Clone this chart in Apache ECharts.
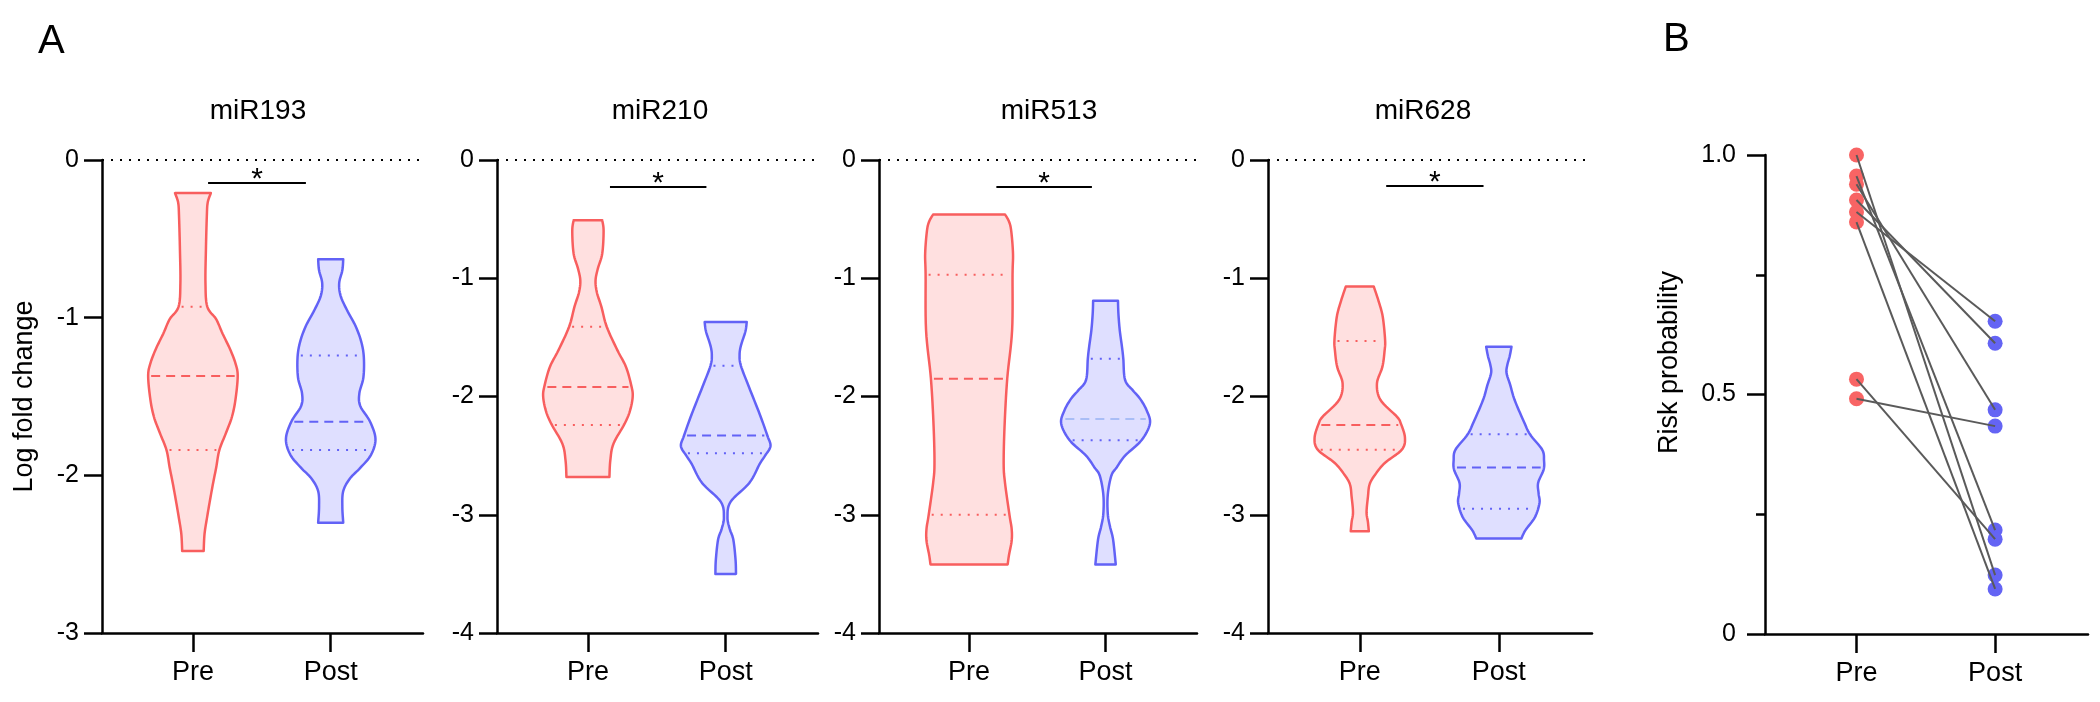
<!DOCTYPE html>
<html>
<head>
<meta charset="utf-8">
<script src="https://cdn.jsdelivr.net/npm/echarts@6/dist/echarts.min.js"></script>
<style>html,body{margin:0;padding:0;background:#fff}#chart{width:2100px;height:702px}</style>
</head>
<body>
<div id="chart"></div>
<script>
// ---------------- DATA ----------------
const groups = ['Pre', 'Post'];
const panelTitles = ['miR193', 'miR210', 'miR513', 'miR628'];

// Violin outlines: [log fold change, relative width (1 = widest)]
const miR193_pre = [[-0.21,0.40],[-0.27,0.33],[-0.36,0.31],[-0.57,0.29],[-0.78,0.28],[-0.93,0.32],[-1.01,0.52],[-1.10,0.66],[-1.20,0.83],[-1.29,0.95],[-1.37,1.0],[-1.52,0.95],[-1.63,0.87],[-1.73,0.74],[-1.84,0.59],[-1.95,0.52],[-2.05,0.45],[-2.16,0.38],[-2.26,0.32],[-2.37,0.26],[-2.48,0.24]];
const miR193_post = [[-0.63,0.28],[-0.70,0.26],[-0.78,0.19],[-0.86,0.22],[-0.95,0.36],[-1.05,0.55],[-1.15,0.68],[-1.25,0.74],[-1.38,0.73],[-1.48,0.64],[-1.56,0.66],[-1.66,0.88],[-1.77,1.0],[-1.87,0.90],[-1.95,0.67],[-2.02,0.43],[-2.10,0.28],[-2.20,0.26],[-2.30,0.28]];
const miR210_pre = [[-0.51,0.32],[-0.60,0.35],[-0.79,0.32],[-0.92,0.22],[-1.02,0.17],[-1.12,0.20],[-1.24,0.30],[-1.41,0.42],[-1.61,0.66],[-1.75,0.85],[-1.91,0.97],[-2.00,1.0],[-2.12,0.94],[-2.23,0.82],[-2.40,0.57],[-2.54,0.50],[-2.68,0.48]];
const miR210_post = [[-1.37,0.47],[-1.45,0.44],[-1.57,0.34],[-1.65,0.31],[-1.74,0.34],[-1.92,0.52],[-2.15,0.76],[-2.33,0.93],[-2.42,1.0],[-2.50,0.88],[-2.57,0.76],[-2.73,0.53],[-2.89,0.11],[-3.02,0.04],[-3.12,0.09],[-3.21,0.17],[-3.38,0.22],[-3.50,0.23]];
const miR513_pre = [[-0.46,0.81],[-0.52,0.90],[-0.60,0.95],[-0.79,0.99],[-0.97,0.98],[-1.44,0.97],[-1.85,0.86],[-2.25,0.80],[-2.57,0.78],[-2.73,0.81],[-3.00,0.91],[-3.12,0.96],[-3.22,0.96],[-3.34,0.90],[-3.42,0.87]];
const miR513_post = [[-1.19,0.28],[-1.30,0.29],[-1.44,0.32],[-1.58,0.37],[-1.68,0.40],[-1.86,0.44],[-1.95,0.62],[-2.02,0.78],[-2.12,0.93],[-2.23,1.0],[-2.37,0.81],[-2.50,0.44],[-2.60,0.25],[-2.67,0.13],[-2.83,0.05],[-2.99,0.05],[-3.10,0.10],[-3.21,0.17],[-3.42,0.23]];
const miR628_pre = [[-1.07,0.31],[-1.21,0.43],[-1.33,0.51],[-1.52,0.56],[-1.61,0.55],[-1.75,0.50],[-1.89,0.38],[-2.03,0.46],[-2.17,0.82],[-2.23,0.91],[-2.35,1.0],[-2.45,0.93],[-2.56,0.56],[-2.65,0.36],[-2.74,0.22],[-2.85,0.18],[-2.98,0.15],[-3.06,0.18],[-3.14,0.20]];
const miR628_post = [[-1.58,0.28],[-1.66,0.24],[-1.73,0.19],[-1.80,0.17],[-1.90,0.25],[-2.03,0.35],[-2.20,0.54],[-2.32,0.69],[-2.45,0.96],[-2.54,1.0],[-2.62,0.99],[-2.73,0.87],[-2.82,0.88],[-2.90,0.90],[-3.02,0.80],[-3.13,0.59],[-3.20,0.50]];

// Quartiles: [upper quartile, median, lower quartile]
const miR193_pre_q = [-0.93, -1.37, -1.84];
const miR193_post_q = [-1.24, -1.66, -1.84];
const miR210_pre_q = [-1.41, -1.92, -2.24];
const miR210_post_q = [-1.74, -2.33, -2.48];
const miR513_pre_q = [-0.97, -1.85, -3.00];
const miR513_post_q = [-1.68, -2.19, -2.37];
const miR628_pre_q = [-1.53, -2.24, -2.45];
const miR628_post_q = [-2.32, -2.60, -2.95];

// Panel B: paired risk probabilities
const riskPre  = [1.000, 0.956, 0.939, 0.906, 0.881, 0.860, 0.532, 0.491];
const riskPost = [0.123, 0.217, 0.468, 0.607, 0.653, 0.094, 0.198, 0.434];

// y-axis ranges
const yMinA = [-3, -4, -4, -4];

// ---------------- LAYOUT / STYLE ----------------
const FONT = 'Liberation Sans, Arial, sans-serif';
const RED = '#F85E5E', RED_FILL = '#FFE0E0';
const BLUE = '#6262F6', BLUE_FILL = '#DFDFFF';
const MEDIAN_COLORS = [[RED, BLUE], [RED, BLUE], [RED, '#A9BDF6'], [RED, BLUE]];
const VIOLIN_WIDTH = 0.65; // in x-axis units (category spacing = 1)
const X_MIN = -0.66, X_MAX = 1.67;
const gridsA = [
  {left: 102, width: 321},
  {left: 497, width: 321},
  {left: 879, width: 318},
  {left: 1268, width: 324}
];
const titleX = [253, 655, 1044, 1418];
// significance bars (annotation): [x from, x to, y]
const sigA = [[0.11, 0.82, -0.146], [0.16, 0.86, -0.226], [0.20, 0.90, -0.226], [0.19, 0.89, -0.22]];
const sigB = [-0.03, 1.01, 1.109];

const profiles = [
  [miR193_pre, miR193_post], [miR210_pre, miR210_post],
  [miR513_pre, miR513_post], [miR628_pre, miR628_post]
];
const quarts = [
  [miR193_pre_q, miR193_post_q], [miR210_pre_q, miR210_post_q],
  [miR513_pre_q, miR513_post_q], [miR628_pre_q, miR628_post_q]
];

function catmull(pts, seg) {
  const out = [];
  const n = pts.length;
  for (let i = 0; i < n - 1; i++) {
    const p0 = pts[Math.max(i - 1, 0)], p1 = pts[i], p2 = pts[i + 1], p3 = pts[Math.min(i + 2, n - 1)];
    for (let s = 0; s < seg; s++) {
      const t = s / seg, t2 = t * t, t3 = t2 * t;
      const f = k => 0.5 * ((2 * p1[k]) + (-p0[k] + p2[k]) * t + (2 * p0[k] - 5 * p1[k] + 4 * p2[k] - p3[k]) * t2 + (-p0[k] + 3 * p1[k] - 3 * p2[k] + p3[k]) * t3);
      out.push([f(0), f(1)]);
    }
  }
  out.push(pts[n - 1]);
  return out;
}
function widthAt(prof, v) {
  for (let i = 0; i < prof.length - 1; i++) {
    const a = prof[i], b = prof[i + 1];
    if ((v <= a[0] && v >= b[0])) {
      const t = (a[0] - v) / (a[0] - b[0]);
      return a[1] + (b[1] - a[1]) * t;
    }
  }
  return prof[prof.length - 1][1];
}

function violinRender(panel) {
  return function (params, api) {
    const gi = params.dataIndex;
    const prof = profiles[panel][gi];
    const q = quarts[panel][gi];
    const xc = api.value(0);
    const unit = api.size([1, 0])[0];
    const halfMax = VIOLIN_WIDTH * unit / 2;
    const stroke = gi === 0 ? RED : BLUE;
    const fill = gi === 0 ? RED_FILL : BLUE_FILL;
    const right = prof.map(([v, w]) => { const p = api.coord([xc, v]); return [p[0] + w * halfMax, p[1]]; });
    const left = prof.map(([v, w]) => { const p = api.coord([xc, v]); return [p[0] - w * halfMax, p[1]]; });
    const pts = catmull(right, 8).concat(catmull(left, 8).reverse());
    const children = [{
      type: 'polygon', shape: {points: pts},
      style: {fill: fill, stroke: stroke, lineWidth: 2.5, lineJoin: 'round'}
    }];
    q.forEach((qv, k) => {
      const p = api.coord([xc, qv]);
      const hw = widthAt(prof, qv) * halfMax - 3;
      const isMed = k === 1;
      children.push({
        type: 'line',
        shape: {x1: p[0] - hw, y1: p[1], x2: p[0] + hw, y2: p[1]},
        style: {stroke: isMed ? MEDIAN_COLORS[panel][gi] : stroke, lineWidth: 2, lineDash: isMed ? [9, 6] : [2, 7]}
      });
    });
    return {type: 'group', children: children};
  };
}

const grids = [], xAxes = [], yAxes = [], series = [], titles = [];
const axisLineStyle = {color: '#000', width: 2.5};

function makeXAxis(gi) {
  return {
    type: 'value', gridIndex: gi, min: X_MIN, max: X_MAX,
    splitLine: {show: false},
    axisLine: {onZero: false, lineStyle: axisLineStyle},
    axisTick: {show: true, length: 19, lineStyle: axisLineStyle, customValues: [0, 1]},
    axisLabel: {customValues: [0, 1], formatter: v => groups[Math.round(v)], fontSize: 27, color: '#000', margin: 26, fontFamily: FONT}
  };
}

for (let i = 0; i < 4; i++) {
  grids.push({left: gridsA[i].left, width: gridsA[i].width, top: 160, height: 473});
  xAxes.push(makeXAxis(i));
  yAxes.push({
    type: 'value', gridIndex: i, min: yMinA[i], max: 0, interval: 1,
    splitLine: {show: false},
    axisLine: {show: true, onZero: false, lineStyle: axisLineStyle},
    axisTick: {show: true, length: 18, lineStyle: axisLineStyle},
    axisLabel: {fontSize: 25, color: '#000', margin: 23, fontFamily: FONT},
    name: i === 0 ? 'Log fold change' : '',
    nameLocation: 'middle', nameGap: 64,
    nameTextStyle: {fontSize: 27, color: '#000', fontFamily: FONT}
  });
  const s = sigA[i];
  series.push({
    type: 'custom', xAxisIndex: i, yAxisIndex: i,
    renderItem: violinRender(i),
    data: groups.map((g, k) => [k, quarts[i][k][1]]),
    clip: false,
    markLine: {
      silent: true, symbol: 'none', animation: false,
      data: [
        {yAxis: 0, lineStyle: {type: [2, 7], width: 2.2, color: '#000'}, label: {show: false}},
        [
          {coord: [s[0], s[2]], lineStyle: {type: 'solid', width: 2, color: '#000'},
           label: {show: true, formatter: '*', position: 'middle', fontSize: 30, color: '#000', distance: -12, fontFamily: FONT}},
          {coord: [s[1], s[2]]}
        ]
      ]
    }
  });
  titles.push({text: panelTitles[i], left: titleX[i], top: 92, textAlign: 'center',
    textStyle: {fontSize: 28, fontWeight: 'normal', color: '#000', fontFamily: FONT}});
}

// Panel B
grids.push({left: 1765, width: 323, top: 155, height: 479});
xAxes.push(makeXAxis(4));
yAxes.push({
  type: 'value', gridIndex: 4, min: 0, max: 1, interval: 0.5,
  splitLine: {show: false}, minorSplitLine: {show: false},
  axisLine: {show: true, onZero: false, lineStyle: axisLineStyle},
  axisTick: {show: true, length: 18, lineStyle: axisLineStyle},
  minorTick: {show: true, splitNumber: 2, length: 9, lineStyle: {color: '#000', width: 2.5}},
  axisLabel: {fontSize: 25, color: '#000', margin: 29, fontFamily: FONT, formatter: v => v === 1 ? '1.0' : String(v)},
  name: 'Risk probability', nameLocation: 'middle', nameGap: 82,
  nameTextStyle: {fontSize: 27, color: '#000', fontFamily: FONT, padding: [0, 0, 0, 64]}
});
series.push({
  type: 'scatter', xAxisIndex: 4, yAxisIndex: 4, symbolSize: 15, clip: false,
  itemStyle: {color: '#F86464', opacity: 1},
  data: riskPre.map(v => [0, v]),
  markLine: {
    silent: true, symbol: 'none', animation: false,
    data: [[
      {coord: [sigB[0], sigB[2]], lineStyle: {type: 'solid', width: 2, color: '#000'},
       label: {show: true, formatter: '*', position: 'middle', fontSize: 30, color: '#000', distance: -12, fontFamily: FONT}},
      {coord: [sigB[1], sigB[2]]}
    ]]
  }
});
series.push({
  type: 'scatter', xAxisIndex: 4, yAxisIndex: 4, symbolSize: 15, clip: false,
  itemStyle: {color: '#6464F4', opacity: 1},
  data: riskPost.map(v => [1, v])
});
series.push({
  type: 'custom', xAxisIndex: 4, yAxisIndex: 4, z: 5,
  data: riskPre.map((v, i) => [v, riskPost[i]]),
  renderItem: function (params, api) {
    const a = api.coord([0, api.value(0)]);
    const b = api.coord([1, api.value(1)]);
    return {type: 'line', shape: {x1: a[0], y1: a[1], x2: b[0], y2: b[1]},
      style: {stroke: '#5A5A5A', lineWidth: 2}};
  }
});

titles.push({text: 'A', left: 33, top: 17, textStyle: {fontSize: 40, fontWeight: 'normal', color: '#000', fontFamily: FONT}});
titles.push({text: 'B', left: 1658, top: 15, textStyle: {fontSize: 40, fontWeight: 'normal', color: '#000', fontFamily: FONT}});

const chart = echarts.init(document.getElementById('chart'), null, {renderer: 'canvas'});
chart.setOption({
  animation: false,
  backgroundColor: '#fff',
  textStyle: {fontFamily: FONT},
  title: titles,
  grid: grids,
  xAxis: xAxes,
  yAxis: yAxes,
  series: series
});
</script>
</body>
</html>
